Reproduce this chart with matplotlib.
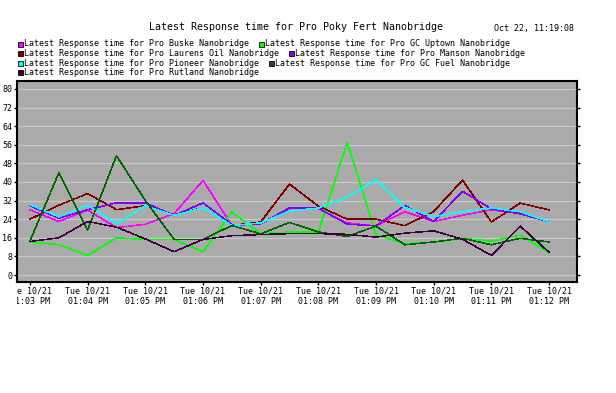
import matplotlib
matplotlib.use('Agg')
import matplotlib.pyplot as plt
from matplotlib.patches import Rectangle
from matplotlib.transforms import Bbox, TransformedBbox
import numpy as np

# данные: 19 замеров с шагом 30 секунд, 01:03 PM ... 01:12 PM
tick_labels = ['Tue 10/21\n01:03 PM', 'Tue 10/21\n01:04 PM', 'Tue 10/21\n01:05 PM',
               'Tue 10/21\n01:06 PM', 'Tue 10/21\n01:07 PM', 'Tue 10/21\n01:08 PM',
               'Tue 10/21\n01:09 PM', 'Tue 10/21\n01:10 PM', 'Tue 10/21\n01:11 PM',
               'Tue 10/21\n01:12 PM']

buske = [28, 23, 27.9, 20.4, 21.8, 26.4, 40.7, 21.3, 22, 28.5, 28.5, 22.4, 21.1, 27.2, 23, 25.7, 28, 26.5, 23]
gc_uptown = [14.1, 13.1, 8.4, 16, 15.3, 15.3, 10, 27.1, 17.7, 18.5, 18.5, 57, 17.3, 13.5, 14, 15.7, 14.6, 17.1, 9.6]
laurens = [24, 30, 35, 28.1, 29.8, 25.9, 28.9, 21.3, 22.8, 39.1, 29.6, 24, 24, 21.2, 27.3, 40.8, 22.8, 30.9, 28]
manson = [29.8, 24.4, 28.1, 31, 31, 25.6, 31, 21.7, 22, 28.9, 28.7, 21.9, 21.1, 29.9, 23, 36, 28.4, 26.3, 22.9]
pioneer = [30.3, 25, 30, 22, 29.8, 25.6, 28.9, 21.3, 22.4, 27.5, 28.8, 33.5, 40.8, 29, 25.1, 27.2, 28.8, 27.2, 22.9]
gc_fuel = [14.6, 43.9, 19.3, 51.3, 32, 15.3, 15.3, 21.3, 17.7, 22.6, 18.5, 16.6, 21, 13, 14.2, 15.8, 13, 15.8, 14.2]
rutland = [14.4, 16, 23, 20.6, 15.5, 10, 15.3, 16.9, 17.4, 17.8, 17.8, 17.5, 16.3, 18, 19, 15.4, 8.4, 21, 9.8]

series = [
    ('Latest Response time for Pro Buske Nanobridge', buske, '#ff00ff'),
    ('Latest Response time for Pro GC Uptown Nanobridge', gc_uptown, '#00ff00'),
    ('Latest Response time for Pro Laurens Oil Nanobridge', laurens, '#800000'),
    ('Latest Response time for Pro Manson Nanobridge', manson, '#8000ff'),
    ('Latest Response time for Pro Pioneer Nanobridge', pioneer, '#00ffff'),
    ('Latest Response time for Pro GC Fuel Nanobridge', gc_fuel, '#006400'),
    ('Latest Response time for Pro Rutland Nanobridge', rutland, '#400040'),
]

W, H = 616, 393
MONO = 'DejaVu Sans Mono'

fig = plt.figure(figsize=(W / 100, H / 100), dpi=100)
fig.patch.set_facecolor('white')

# область графика в пикселях: x 17..577, y 81..282
ax = fig.add_axes([17 / W, 1 - 282 / H, 560 / W, 201 / H])
ax.set_facecolor('#aaaaaa')

x = np.arange(len(buske))
for name, vals, col in series:
    ax.plot(x, vals, color=col, linewidth=0.36, antialiased=False)

ax.set_xlim(-0.45, 18.97)
ax.set_ylim(-3.0, 83.4)

ax.set_yticks(np.arange(0, 81, 8))
ax.yaxis.grid(True, color='#c8c8c8', linewidth=0.9)
ax.set_axisbelow(True)

ax.set_xticks(x[::2])
ax.set_xticklabels(tick_labels, fontsize=6, family=MONO, linespacing=1.2)
for lbl in ax.get_yticklabels():
    lbl.set_fontsize(6)
    lbl.set_family(MONO)

ax.tick_params(axis='y', which='both', left=True, right=True, labelright=False,
               length=2, width=1, pad=1.5, direction='out')
ax.tick_params(axis='x', length=2, width=1, pad=1, direction='out')

for sp in ax.spines.values():
    sp.set_linewidth(1.5)
    sp.set_color('black')

# первая подпись обрезается по левой границе графика
clip = TransformedBbox(Bbox([[0, -1], [1.2, 0]]), ax.transAxes)
first = ax.xaxis.get_major_ticks()[0].label1
first.set_clip_box(clip)
first.set_clip_on(True)

# заголовок и время
fig.text(296 / W, 1 - 27 / H, 'Latest Response time for Pro Poky Fert Nanobridge',
         ha='center', va='center', fontsize=7.2, family=MONO)
fig.text(494 / W, 1 - 28 / H, 'Oct 22, 11:19:08',
         ha='left', va='center', fontsize=6, family=MONO)

# легенда в четыре строки
rows = [[0, 1], [2, 3], [4, 5], [6]]
row_y = [44, 53.5, 63, 72.5]
renderer = fig.canvas.get_renderer()
for r, idxs in enumerate(rows):
    xpos = 17.5
    yc = row_y[r]
    for k in idxs:
        name, vals, col = series[k]
        fig.patches.append(Rectangle((xpos / W, 1 - (yc + 2.5) / H), 5 / W, 5 / H,
                                     facecolor=col, edgecolor='black', linewidth=0.6,
                                     transform=fig.transFigure, figure=fig))
        t = fig.text((xpos + 6.5) / W, 1 - yc / H, name, ha='left', va='center',
                     fontsize=6, family=MONO)
        bb = t.get_window_extent(renderer)
        xpos = bb.x1 + 9.5

fig.savefig('out.png', dpi=100)
